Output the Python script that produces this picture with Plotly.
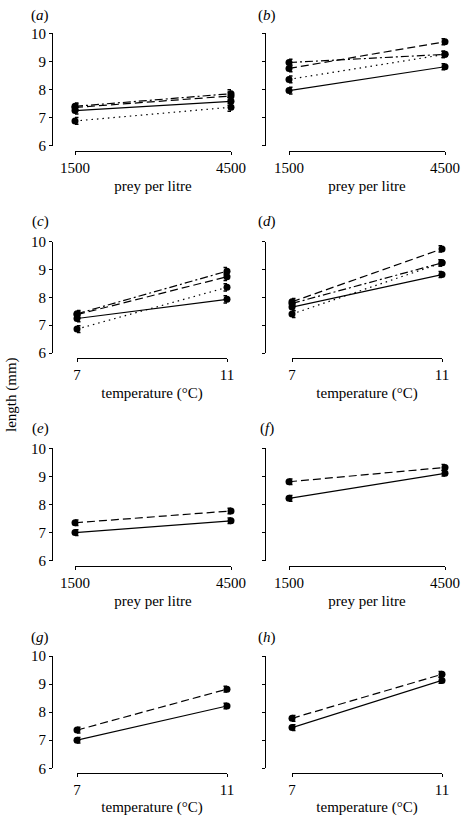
import plotly.graph_objects as go

W, H = 462, 816

prey = [1500, 4500]
temp = [7, 11]
yticks = [6, 7, 8, 9, 10]

# panel (a): length vs prey per litre
a_solid = [7.25, 7.58]
a_dash = [7.36, 7.77]
a_dashdot = [7.40, 7.85]
a_dot = [6.88, 7.37]
a_err = [0.12, 0.14]

# panel (b)
b_solid = [7.96, 8.81]
b_dash = [8.75, 9.70]
b_dashdot = [8.96, 9.25]
b_dot = [8.36, 9.25]
b_err = [0.12, 0.11]

# panel (c): length vs temperature
c_solid = [7.24, 7.93]
c_dash = [7.38, 8.74]
c_dashdot = [7.41, 8.94]
c_dot = [6.86, 8.36]
c_err = [0.12, 0.13]

# panel (d)
d_solid = [7.65, 8.82]
d_dash = [7.84, 9.74]
d_dashdot = [7.78, 9.24]
d_dot = [7.40, 9.24]
d_err = [0.12, 0.11]

# panel (e)
e_solid = [7.00, 7.42]
e_dash = [7.35, 7.77]
# panel (f)
f_solid = [8.22, 9.11]
f_dash = [8.81, 9.32]
# panel (g)
g_solid = [7.00, 8.22]
g_dash = [7.36, 8.82]
# panel (h)
h_solid = [7.45, 9.13]
h_dash = [7.78, 9.35]
pair_err = [0.10, 0.10]

DASHES = {"solid": "solid", "dash": "8px,4px", "dashdot": "8px,3px,2px,3px", "dot": "1.5px,4px"}

panels = [
    ("a", prey, [("solid", a_solid), ("dash", a_dash), ("dashdot", a_dashdot), ("dot", a_dot)], a_err, "prey per litre"),
    ("b", prey, [("solid", b_solid), ("dash", b_dash), ("dashdot", b_dashdot), ("dot", b_dot)], b_err, "prey per litre"),
    ("c", temp, [("solid", c_solid), ("dash", c_dash), ("dashdot", c_dashdot), ("dot", c_dot)], c_err, "temperature (°C)"),
    ("d", temp, [("solid", d_solid), ("dash", d_dash), ("dashdot", d_dashdot), ("dot", d_dot)], d_err, "temperature (°C)"),
    ("e", prey, [("solid", e_solid), ("dash", e_dash)], pair_err, "prey per litre"),
    ("f", prey, [("solid", f_solid), ("dash", f_dash)], pair_err, "prey per litre"),
    ("g", temp, [("solid", g_solid), ("dash", g_dash)], pair_err, "temperature (°C)"),
    ("h", temp, [("solid", h_solid), ("dash", h_dash)], pair_err, "temperature (°C)"),
]

# layout geometry (screen pixels)
rows_px = [(33.3, 145.7, 151), (241.7, 353, 358.3), (448.3, 560.7, 565.7), (656, 768.3, 773.3)]
ycol_px = [52, 265]
xdom_prey = [(75, 231), (289, 445)]
xdom_temp = [(77, 227), (292, 442)]
label_x = [40, 267]
label_y = [15, 222, 428, 637]


def fx(px):
    return px / W


def fy(py):
    return 1 - py / H


FONT = "Liberation Serif, Times New Roman, serif"
FS = 15
fig = go.Figure()
layout = {}
annotations = []

for i, (lab, xs, series, err, xtitle) in enumerate(panels):
    r, c = divmod(i, 2)
    n = i + 1
    xa = "x" if n == 1 else f"x{n}"
    ya = "y" if n == 1 else f"y{n}"
    xk = "xaxis" if n == 1 else f"xaxis{n}"
    yk = "yaxis" if n == 1 else f"yaxis{n}"
    top, bot, axy = rows_px[r]
    xd = xdom_prey[c] if xs is prey else xdom_temp[c]
    for style, vals in series:
        fig.add_trace(go.Scatter(
            x=xs, y=vals, xaxis=xa, yaxis=ya, mode="lines+markers",
            line=dict(color="black", width=1.2, dash=DASHES[style]),
            marker=dict(color="black", size=7, symbol="circle"),
            error_y=dict(type="data", array=err, color="black", thickness=1.5, width=3.5),
            cliponaxis=False, showlegend=False, hoverinfo="skip"))
    layout[xk] = dict(
        domain=[fx(xd[0]), fx(xd[1])], range=[xs[0], xs[1]], anchor="free",
        position=fy(axy), showline=True, linecolor="black", linewidth=1,
        ticks="outside", ticklen=3, tickcolor="black", tickvals=xs,
        ticktext=[str(v) for v in xs], showgrid=False, zeroline=False,
        tickfont=dict(family=FONT, size=FS, color="black"),
        title=dict(text=xtitle, font=dict(family=FONT, size=FS, color="black"), standoff=5),
    )
    layout[yk] = dict(
        domain=[fy(bot), fy(top)], range=[6, 10], anchor="free",
        position=fx(ycol_px[c]), showline=True, linecolor="black", linewidth=1,
        ticks="outside", ticklen=3, tickcolor="black", tickvals=yticks,
        showticklabels=(c == 0), showgrid=False, zeroline=False,
        tickfont=dict(family=FONT, size=FS, color="black"),
    )
    annotations.append(dict(
        text=f"(<i>{lab}</i>)", x=fx(label_x[c]), y=fy(label_y[r]),
        xref="paper", yref="paper", xanchor="center", yanchor="middle",
        showarrow=False, font=dict(family=FONT, size=FS, color="black")))

annotations.append(dict(
    text="length (mm)", x=fx(11), y=fy(395), xref="paper", yref="paper",
    xanchor="center", yanchor="middle",
    showarrow=False, textangle=-90, font=dict(family=FONT, size=FS, color="black")))

fig.update_layout(
    width=W, height=H, margin=dict(l=0, r=0, t=0, b=0, autoexpand=False),
    paper_bgcolor="white", plot_bgcolor="white",
    annotations=annotations, **layout)

fig.write_html(
    "out.html",
    config={"displayModeBar": False, "staticPlot": True},
    post_script="document.body.style.margin='0';document.body.style.overflow='hidden';",
)
